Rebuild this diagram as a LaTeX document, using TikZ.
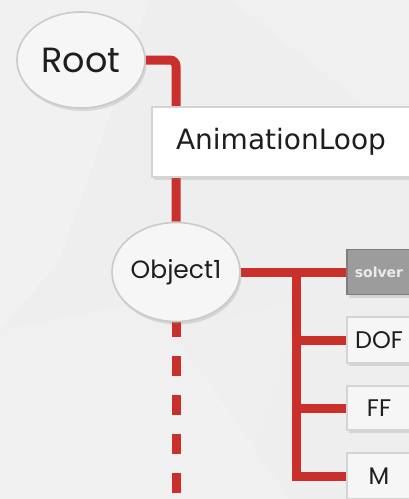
\documentclass[tikz,border=0pt]{standalone}
\usepackage{fontspec}
\newfontfamily\geofont{Poppins}
\newfontfamily\uifont{DejaVu Sans}
\usetikzlibrary{shapes.geometric,shadows,backgrounds}
\definecolor{linkred}{HTML}{C9302C}
\definecolor{bgbase}{HTML}{EEEEEE}
\definecolor{bglight}{HTML}{F6F6F6}
\definecolor{rimgray}{HTML}{CACACA}
\definecolor{boxrim}{HTML}{D4D4D4}
\definecolor{solverfill}{HTML}{9C9C9C}
\definecolor{solverrim}{HTML}{7E7E7E}
\definecolor{inktext}{HTML}{1E1E1E}
\tikzset{
  link/.style={draw=linkred, line width=9pt},
  softshadow/.style={drop shadow={opacity=0.22, shadow xshift=1.5pt, shadow yshift=-3pt}},
  bubble/.style={ellipse, draw=rimgray, line width=1.6pt, fill=bglight,
    inner sep=0pt, text=inktext, softshadow, font=\geofont},
  loopbox/.style={rectangle, draw=boxrim, line width=2pt, fill=white,
    inner sep=0pt, text=inktext, softshadow, font=\uifont\fontsize{28}{30}\selectfont},
  compbox/.style={rectangle, draw=boxrim, line width=1.4pt, fill=bglight,
    inner sep=0pt, minimum width=64pt, text=inktext, softshadow,
    font=\geofont\fontsize{24}{26}\selectfont},
  solverbox/.style={compbox, fill=solverfill, draw=solverrim,
    text=white!92!black, font=\uifont\bfseries\fontsize{14}{16}\selectfont}
}
\begin{document}
\begin{tikzpicture}[x=1pt,y=-1pt]
\useasboundingbox (0,0) rectangle (409,499);
\clip (0,0) rectangle (409,499);

% hierarchy nodes
\node[bubble, minimum width=128pt, minimum height=96pt,
      font=\geofont\fontsize{35}{37}\selectfont] (root) at (81,60) {Root};
\node[loopbox, minimum width=258pt, minimum height=70pt] (loop) at (281,142) {AnimationLoop};
\node[bubble, minimum width=128pt, minimum height=99pt,
      font=\geofont\fontsize{25}{27}\selectfont] (obj) at (176,272) {Object1};
\node[solverbox, minimum height=45pt] (solver) at (379,272) {solver};
\node[compbox, minimum height=46pt] (dof) at (379,340) {DOF};
\node[compbox, minimum height=44pt] (ff) at (379,408) {FF};
\node[compbox, minimum height=46pt] (mass) at (379,476) {M};

\coordinate (fork) at (296,272);
\coordinate (tail) at (176,510);

\begin{pgfonlayer}{background}
  % backdrop with faint lighter facets
  \fill[bgbase] (0,0) rectangle (409,499);
  \fill[white, opacity=0.18] (0,0) -- (150,0) -- (60,260) -- (0,330) -- cycle;
  \fill[white, opacity=0.14] (0,330) -- (150,300) -- (290,499) -- (0,499) -- cycle;
  \fill[white, opacity=0.12] (230,0) -- (409,0) -- (409,140) -- cycle;
  \fill[white, opacity=0.1] (180,330) -- (300,300) -- (250,470) -- cycle;
  % connectors
  \draw[link, rounded corners=6pt] (root.east) -| (obj.north);
  \draw[link] (obj.east) -- (solver.west);
  \draw[link] (fork) |- (mass.west);
  \draw[link] (fork |- dof.west) -- (dof.west);
  \draw[link] (fork |- ff.west) -- (ff.west);
  \draw[link, dash pattern=on 20pt off 19pt, dash phase=5pt] (obj.south) -- (tail);
\end{pgfonlayer}
\end{tikzpicture}
\end{document}
